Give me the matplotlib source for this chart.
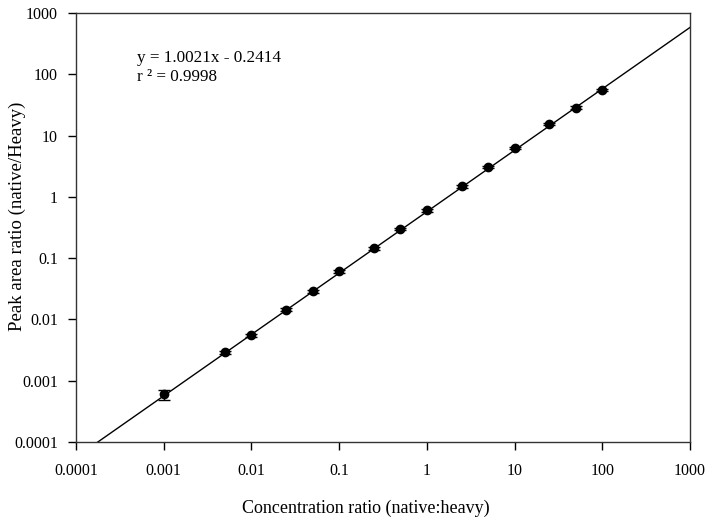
import numpy as np
import matplotlib
matplotlib.use("Agg")
import matplotlib.pyplot as plt
from matplotlib.ticker import FixedLocator, FixedFormatter, NullLocator

plt.rcParams['font.family'] = ['Liberation Serif', 'DejaVu Serif']

# concentration ratio (native:heavy) and measured peak area ratio
conc = [0.001, 0.005, 0.01, 0.025, 0.05, 0.1, 0.25, 0.5, 1, 2.5, 5, 10, 25, 50, 100]
ratio = [0.0006, 0.0029, 0.0055, 0.0143, 0.029, 0.061, 0.145, 0.30, 0.60,
         1.50, 3.1, 6.3, 15.5, 28.5, 56]
err = [0.00011, 0.0002, 0.0003, 0.0008, 0.0015, 0.003, 0.007, 0.015, 0.03,
       0.08, 0.15, 0.3, 0.8, 1.6, 2.5]

# log-log regression reported on the chart
slope = 1.0021
intercept = -0.2414
r2 = 0.9998

tick_vals = [0.0001, 0.001, 0.01, 0.1, 1, 10, 100, 1000]
tick_labels = ['0.0001', '0.001', '0.01', '0.1', '1', '10', '100', '1000']

fig = plt.figure(figsize=(7.14, 5.21), dpi=100)
ax = fig.add_axes([0.1064, 0.1516, 0.86, 0.8234])
ax.set_xscale('log')
ax.set_yscale('log')
ax.set_xlim(0.0001, 1000)
ax.set_ylim(0.0001, 1000)

# regression line
lx = np.logspace(-4, 3, 200)
ly = 10 ** (slope * np.log10(lx) + intercept)
ax.plot(lx, ly, color='black', lw=1.0)

ax.errorbar(conc, ratio, yerr=err, fmt='o', color='black', ms=6,
            elinewidth=1.0, capsize=4, capthick=1.0)

for a in (ax.xaxis, ax.yaxis):
    a.set_major_locator(FixedLocator(tick_vals))
    a.set_major_formatter(FixedFormatter(tick_labels))
    a.set_minor_locator(NullLocator())
ax.tick_params(axis='both', direction='out', length=6, width=1.0,
               labelsize=11.5, top=False, right=False)
ax.tick_params(axis='x', pad=9)
ax.tick_params(axis='y', pad=7)
for s in ax.spines.values():
    s.set_linewidth(1.0)
    s.set_color('#333333')

ax.set_xlabel('Concentration ratio (native:heavy)', fontsize=13, labelpad=13)
ax.xaxis.set_label_coords(0.472, -0.135)
ax.set_ylabel('Peak area ratio (native/Heavy)', fontsize=13.5)
ax.yaxis.set_label_coords(-0.081, 0.527)

ax.text(0.1, 0.895, 'y = %.4fx - %.4f' % (slope, -intercept),
        transform=ax.transAxes, fontsize=12.3, va='center')
ax.text(0.1, 0.851, 'r ² = %.4f' % r2, transform=ax.transAxes,
        fontsize=12.3, va='center')

fig.savefig('out.png', dpi=100)
